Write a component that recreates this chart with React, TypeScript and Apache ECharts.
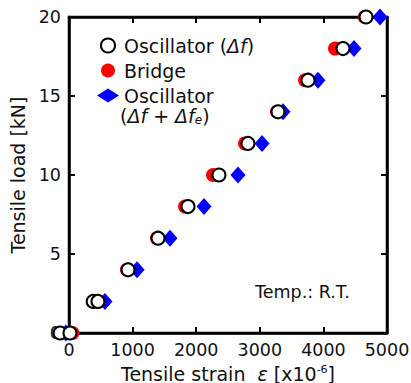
import React, { useEffect, useRef } from "react";
import * as echarts from "echarts";

const oscillatorDf: number[][] = [
  [-140, 0], [15, 0], [380, 2], [455, 2], [928, 4], [1400, 6], [1871, 8],
  [2358, 10], [2814, 12], [3286, 14], [3758, 16], [4308, 18], [4670, 20],
];
const bridge: number[][] = [
  [55, 0], [470, 2], [912, 4], [1384, 6], [1824, 8], [2264, 10],
  [2767, 12], [3270, 14], [3711, 16], [4182, 18], [4650, 20],
];
const oscillatorDfFe: number[][] = [
  [-50, 0], [566, 2], [1070, 4], [1588, 6], [2123, 8], [2657, 10],
  [3035, 12], [3365, 14], [3915, 16], [4481, 18], [4890, 20],
];
const xTicks = [0, 5000, 1000];
const yTicks = [0, 20, 5];

const FONT = "DejaVu Sans";
const TXT = "#111";

const mkLine = () => ({ show: true, onZero: false, lineStyle: { color: "#000", width: 2.5 } });
const mkTick = () => ({ show: true, inside: true, length: 6, lineStyle: { color: "#000", width: 2 } });
const mkLabel = () => ({
  color: TXT, fontSize: 17.5, fontFamily: FONT, margin: 8,
  formatter: (v: number) => String(v),
});

export default function App() {
  const ref = useRef<HTMLDivElement>(null);
  useEffect(() => {
    const chart = echarts.init(ref.current!, undefined, { renderer: "svg" });
    chart.setOption({
      animation: false,
      backgroundColor: "#fff",
      textStyle: { fontFamily: FONT },
      grid: {
        left: 69, right: 24, top: 17, bottom: 50,
        containLabel: false, outerBoundsMode: "none",
        show: true, borderColor: "#000", borderWidth: 2.5, backgroundColor: "transparent",
      },
      legend: {
        orient: "vertical",
        left: 92,
        top: 31,
        itemWidth: 22,
        itemHeight: 14,
        itemGap: 6,
        data: ["Oscillator (Δf)", "Bridge", "Oscillator"],
        formatter: (name: string) =>
          name === "Oscillator (Δf)" ? "{n|Oscillator (}{i|Δf}{n|)}" : "{n|" + name + "}",
        textStyle: {
          color: TXT, fontSize: 19, fontFamily: FONT,
          rich: {
            n: { fontSize: 19, fontFamily: FONT, color: TXT },
            i: { fontSize: 19, fontFamily: FONT, color: TXT, fontStyle: "italic" },
          },
        },
      },
      xAxis: [
        {
          type: "value", position: "bottom", min: xTicks[0], max: xTicks[1], interval: xTicks[2],
          axisLine: mkLine(), axisTick: mkTick(), splitLine: { show: false },
          axisLabel: mkLabel(),
          name: "{n|Tensile strain  }{e|ε}{n| [x10}{s|-6}{n|]}",
          nameLocation: "middle", nameGap: 29,
          nameTextStyle: {
            color: TXT, fontSize: 19, fontFamily: FONT,
            rich: {
              n: { fontSize: 19, fontFamily: FONT, color: TXT, lineHeight: 20 },
              e: { fontSize: 19, fontFamily: FONT, color: TXT, fontStyle: "italic", lineHeight: 20 },
              s: { fontSize: 11, fontFamily: FONT, color: TXT, verticalAlign: "top", lineHeight: 20 },
            },
          },
        },
        {
          type: "value", position: "top", min: xTicks[0], max: xTicks[1], interval: xTicks[2],
          axisLine: mkLine(), axisTick: mkTick(), splitLine: { show: false }, axisLabel: { show: false },
        },
      ],
      yAxis: [
        {
          type: "value", position: "left", min: yTicks[0], max: yTicks[1], interval: yTicks[2],
          axisLine: mkLine(), axisTick: mkTick(), splitLine: { show: false },
          axisLabel: mkLabel(),
          name: "Tensile load [kN]",
          nameLocation: "middle", nameGap: 29,
          nameTextStyle: { color: TXT, fontSize: 19, fontFamily: FONT },
        },
        {
          type: "value", position: "right", min: yTicks[0], max: yTicks[1], interval: yTicks[2],
          axisLine: mkLine(), axisTick: mkTick(), splitLine: { show: false }, axisLabel: { show: false },
        },
      ],
      series: [
        {
          name: "Bridge", type: "scatter", data: bridge, clip: false,
          symbol: "circle", symbolSize: 14, itemStyle: { color: "#ff0000", opacity: 1 },
        },
        {
          name: "Oscillator", type: "scatter", data: oscillatorDfFe, clip: false,
          symbol: "diamond", symbolSize: [15, 17], itemStyle: { color: "#0000ff", opacity: 1 },
        },
        {
          name: "Oscillator (Δf)", type: "scatter", data: oscillatorDf, clip: false,
          symbol: "circle", symbolSize: 13,
          itemStyle: { color: "#fff", borderColor: "#000", borderWidth: 2, opacity: 1 },
        },
      ],
      graphic: [
        {
          type: "text", left: 120, top: 106,
          style: {
            text: "{n|(}{i|Δf + Δf}{s|e}{n|)}",
            rich: {
              n: { fontSize: 19, fontFamily: FONT, fill: TXT, lineHeight: 21 },
              i: { fontSize: 19, fontFamily: FONT, fill: TXT, fontStyle: "italic", lineHeight: 21 },
              s: { fontSize: 12, fontFamily: FONT, fill: TXT, fontStyle: "italic", verticalAlign: "bottom", lineHeight: 21 },
            },
          },
        },
        {
          type: "text", left: 255, top: 283,
          style: { text: "Temp.: R.T.", fontSize: 17.5, fontFamily: FONT, fill: TXT },
        },
      ],
    } as any);
    return () => chart.dispose();
  }, []);
  return (
    <div
      ref={ref}
      style={{ position: "fixed", left: 0, top: 0, width: 411, height: 383 }}
    />
  );
}
